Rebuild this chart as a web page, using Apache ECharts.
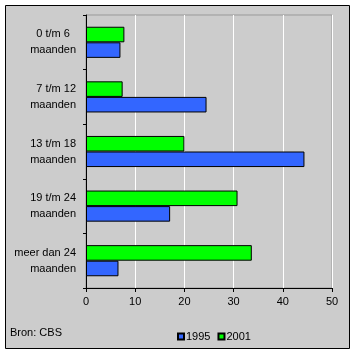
<!DOCTYPE html>
<html>
<head>
<meta charset="utf-8">
<script src="https://cdn.jsdelivr.net/npm/echarts@6/dist/echarts.min.js"></script>
<style>
  html, body { margin: 0; padding: 0; background: #fff; }
  #main { width: 356px; height: 354px; }
</style>
</head>
<body>
<div id="main"></div>
<script>
  const categories = ['0 t/m 6  \nmaanden', '7 t/m 12\nmaanden', '13 t/m 18\nmaanden', '19 t/m 24\nmaanden', 'meer dan 24\nmaanden']
  const values1995 = [7.0, 24.5, 44.4, 17.1, 6.6]
  const values2001 = [7.8, 7.45, 20.0, 30.8, 33.7]
  const xTicks = [0, 10, 20, 30, 40, 50]

  const font = 'Arial, "Liberation Sans", sans-serif'
  const chart = echarts.init(document.getElementById('main'))
  chart.setOption({
    animation: false,
    backgroundColor: '#fff',
    graphic: [
      {
        type: 'rect',
        z: -10,
        shape: { x: 5.5, y: 5.5, width: 344, height: 343 },
        style: { fill: '#cccccc', stroke: '#000', lineWidth: 1 }
      },
      {
        type: 'text',
        left: 10,
        top: 327,
        style: { text: 'Bron: CBS', font: '11px ' + font, fill: '#000' }
      }
    ],
    grid: {
      left: 86,
      top: 15,
      width: 246,
      height: 273,
      show: true,
      backgroundColor: 'transparent',
      borderColor: '#999',
      borderWidth: 1
    },
    legend: {
      data: ['1995', '2001'],
      left: 172,
      top: 326,
      itemWidth: 6,
      itemHeight: 6,
      itemGap: 7,
      icon: 'rect',
      textStyle: { fontFamily: font, fontSize: 11, color: '#000', padding: [0, 0, 0, -3] }
    },
    xAxis: {
      type: 'value',
      min: 0,
      max: 50,
      interval: 10,
      axisLine: { show: true, lineStyle: { color: '#000' } },
      axisTick: { show: true, length: 4, lineStyle: { color: '#000' } },
      axisLabel: {
        fontFamily: font, fontSize: 11, color: '#000', margin: 8,
        formatter: function (v) { return xTicks.indexOf(v) >= 0 ? String(v) : '' }
      },
      splitLine: { show: true, lineStyle: { color: '#fff', width: 1 } }
    },
    yAxis: {
      type: 'category',
      inverse: true,
      data: categories,
      axisLine: { show: true, lineStyle: { color: '#000' } },
      axisTick: { show: true, length: 3, lineStyle: { color: '#000' } },
      axisLabel: { fontFamily: font, fontSize: 11, color: '#000', margin: 10, lineHeight: 16, align: 'right' }
    },
    series: [
      {
        name: '2001',
        type: 'bar',
        data: values2001,
        barGap: '0%',
        barCategoryGap: '43%',
        itemStyle: { color: '#00ff00', borderColor: '#000', borderWidth: 1 }
      },
      {
        name: '1995',
        type: 'bar',
        data: values1995,
        barGap: '0%',
        barCategoryGap: '43%',
        itemStyle: { color: '#3366ff', borderColor: '#000', borderWidth: 1 }
      }
    ]
  })
</script>
</body>
</html>
